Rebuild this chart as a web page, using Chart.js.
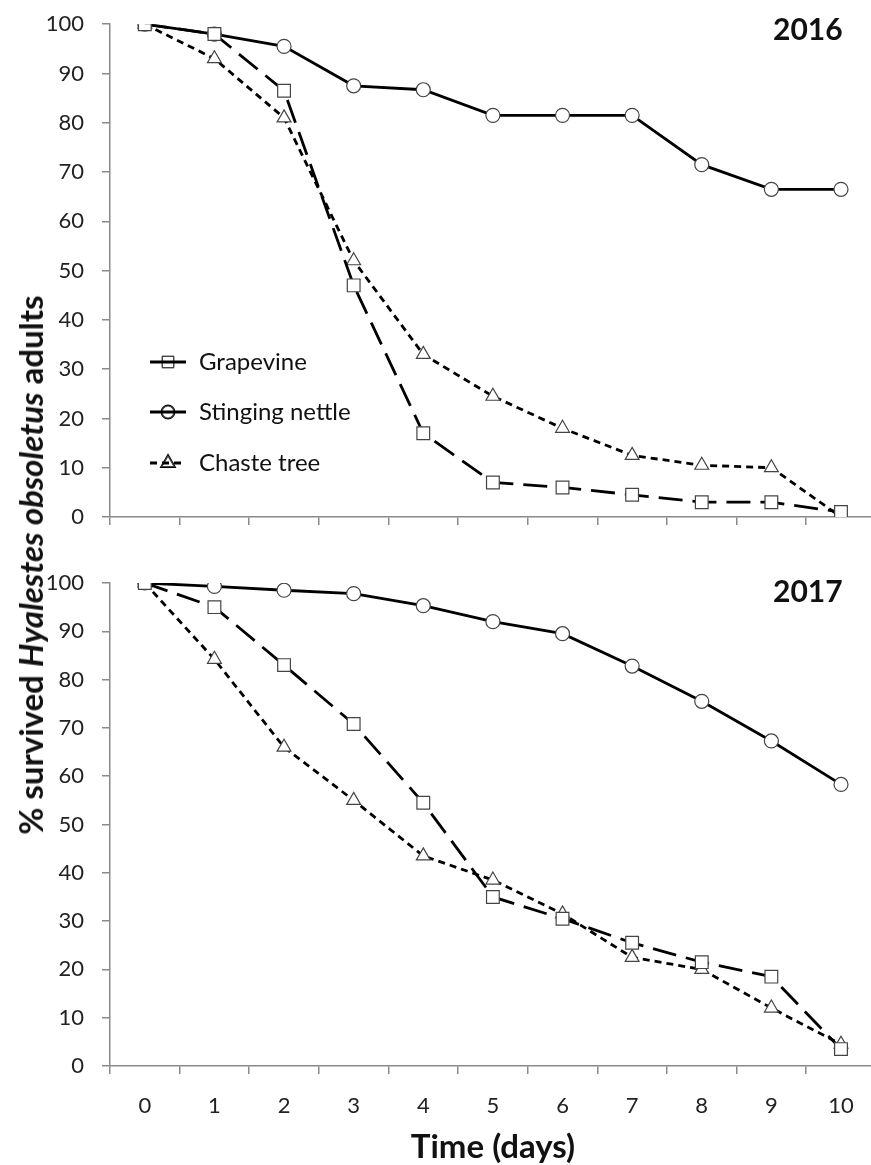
<!DOCTYPE html>
<html lang="en">
<head>
<meta charset="UTF-8">
<title>Hyalestes obsoletus survival</title>
<script src="https://cdn.jsdelivr.net/npm/chart.js"></script>
<style>
  html, body { margin: 0; padding: 0; background: #fff; overflow: hidden; }
  body { width: 871px; height: 1165px; position: relative; font-family: Lato, "Open Sans", sans-serif; color: #111; }
  canvas { position: absolute; left: 0; }
  #top { top: -7px; }
  #bottom { top: 540px; }
  .year { position: absolute; font-weight: bold; font-size: 30px; }
  #yTitle { position: absolute; left: 30px; top: 565px; transform: translate(-50%, -50%) rotate(-90deg);
            white-space: nowrap; font-weight: bold; font-size: 33px; }
  #xTitle { position: absolute; left: 493px; top: 1145px; transform: translate(-50%, -50%);
            white-space: nowrap; font-weight: bold; font-size: 33px; }
</style>
</head>
<body>
<canvas id="top" width="886" height="584"></canvas>
<canvas id="bottom" width="886" height="586"></canvas>
<div class="year" style="left:773px; top:10px;">2016</div>
<div class="year" style="left:773px; top:572px;">2017</div>
<div id="yTitle">% survived <i>Hyalestes obsoletus</i> adults</div>
<div id="xTitle">Time (days)</div>

<script>
// days after start
const days = ['0', '1', '2', '3', '4', '5', '6', '7', '8', '9', '10'];
const seriesNames = ['Grapevine', 'Stinging nettle', 'Chaste tree'];

// 2016
const grape2016  = [100, 98, 86.5, 47, 17, 7, 6, 4.5, 3, 3, 1];
const nettle2016 = [100, 98, 95.5, 87.5, 86.7, 81.5, 81.5, 81.5, 71.5, 66.5, 66.5];
const chaste2016 = [100, 93, 81, 52, 33, 24.5, 18, 12.5, 10.5, 10, 0];

// 2017
const grape2017  = [100, 95, 83, 70.8, 54.5, 35, 30.5, 25.5, 21.5, 18.5, 3.5];
const nettle2017 = [100, 99.3, 98.5, 97.8, 95.3, 92, 89.5, 82.8, 75.5, 67.3, 58.3];
const chaste2017 = [100, 84.2, 66, 55, 43.5, 38.5, 31.5, 22.5, 20, 12, 4.5];

const yTicks = [0, 10, 20, 30, 40, 50, 60, 70, 80, 90, 100];

const axisGray = '#8a8a8a';
const markerGray = '#444';

// line style per series
const styles = [
  { dash: [24, 10], point: 'rect', radius: 9 },
  { dash: [], point: 'circle', radius: 7 },
  { dash: [7, 5], point: 'triangle', radius: 8 }
];

function makeDatasets(grape, nettle, chaste) {
  return [grape, nettle, chaste].map(function(vals, i) {
    return {
      label: seriesNames[i],
      data: vals,
      borderColor: '#000',
      borderWidth: 2.8,
      borderDash: styles[i].dash,
      pointStyle: styles[i].point,
      pointRadius: styles[i].radius,
      pointBackgroundColor: '#fff',
      pointBorderColor: markerGray,
      pointBorderWidth: 1.2,
      tension: 0
    };
  });
}

// legend drawn inside the 2016 plot, line over the marker
const insideLegend = {
  id: 'insideLegend',
  afterDatasetsDraw(chart) {
    if (!chart.options.plugins.insideLegend.show) return;
    const ctx = chart.ctx;
    const rows = [369, 419, 470]; // canvas is shifted up 7px
    ctx.save();
    chart.data.datasets.forEach(function(ds, i) {
      const y = rows[i];
      Chart.helpers.drawPoint(ctx, {
        pointStyle: ds.pointStyle, radius: ds.pointRadius - 1, borderWidth: 1.2, rotation: 0
      }, 168, y);
      ctx.fillStyle = '#fff';
      ctx.strokeStyle = markerGray;
      ctx.lineWidth = 1.2;
      ctx.fill();
      ctx.stroke();
      ctx.strokeStyle = '#000';
      ctx.lineWidth = 2.8;
      ctx.setLineDash(i === 2 ? [7, 5] : []);
      ctx.beginPath();
      ctx.moveTo(150, y);
      ctx.lineTo(186, y);
      ctx.stroke();
      ctx.setLineDash([]);
      ctx.fillStyle = '#111';
      ctx.font = '24px Lato';
      ctx.textBaseline = 'middle';
      ctx.fillText(ds.label, 199, y);
    });
    ctx.restore();
  }
};

// both panels get the same x axis layout; the top one hides its labels
function makePanel(id, datasets, isTop, padTop) {
  return new Chart(document.getElementById(id), {
    type: 'line',
    data: { labels: days, datasets: datasets },
    plugins: [insideLegend],
    options: {
      responsive: false,
      devicePixelRatio: 1,
      animation: false,
      layout: { padding: { top: padTop, right: 0, left: 0, bottom: 0 } },
      plugins: {
        legend: { display: false },
        tooltip: { enabled: false },
        insideLegend: { show: isTop }
      },
      scales: {
        x: {
          type: 'category',
          offset: true,
          grid: { offset: true, drawOnChartArea: false, tickLength: 8, color: axisGray, lineWidth: 1.5 },
          border: { color: axisGray, width: 1.5 },
          ticks: { padding: 19, color: isTop ? 'rgba(0,0,0,0)' : '#222', font: { size: 22, family: 'Lato' } },
          afterFit: function(s) { s.height = 60; }
        },
        y: {
          min: 0,
          max: 100,
          afterBuildTicks: function(s) { s.ticks = yTicks.map(function(v) { return { value: v }; }); },
          grid: { drawOnChartArea: false, tickLength: 8, color: axisGray, lineWidth: 1.5 },
          border: { color: axisGray, width: 1.5 },
          ticks: { padding: 18, color: '#222', font: { size: 22, family: 'Lato' } },
          afterFit: function(s) { s.width = 110; }
        }
      }
    }
  });
}

makePanel('top', makeDatasets(grape2016, nettle2016, chaste2016), true, 24);
makePanel('bottom', makeDatasets(grape2017, nettle2017, chaste2017), false, 43);
</script>
</body>
</html>
